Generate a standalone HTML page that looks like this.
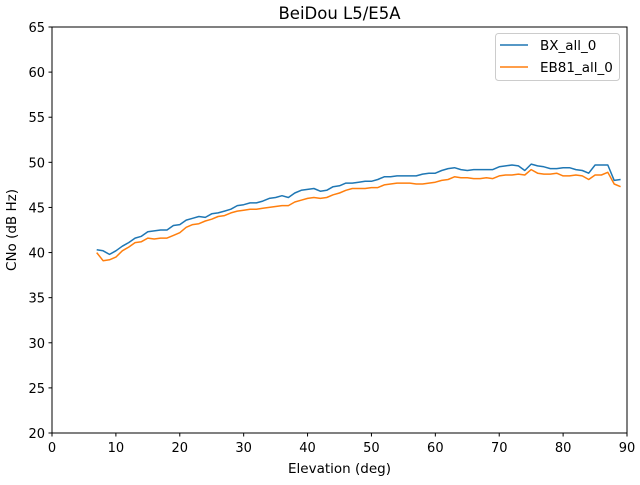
<!DOCTYPE html>
<html><head><meta charset="utf-8"><style>
body{margin:0;background:#fff}
svg text{font-family:"DejaVu Sans","Liberation Sans",sans-serif;fill:#000}
</style></head><body>
<svg id="s" width="640" height="480" xmlns="http://www.w3.org/2000/svg">
<rect width="640" height="480" fill="#fff"/>
<text x="339.5" y="19" font-size="16.5" text-anchor="middle">BeiDou L5/E5A</text>
<g id="ticks"></g>
<polyline id="b" fill="none" stroke="#1f77b4" stroke-width="1.5" stroke-linejoin="round"/>
<polyline id="o" fill="none" stroke="#ff7f0e" stroke-width="1.5" stroke-linejoin="round"/>
<rect x="52" y="27" width="575" height="406" fill="none" stroke="#000" stroke-width="1"/>
<text x="339.5" y="473" font-size="13.5" text-anchor="middle">Elevation (deg)</text>
<text transform="translate(16,230) rotate(-90)" font-size="13.5" text-anchor="middle">CNo (dB Hz)</text>
<rect x="495.5" y="33.5" width="124" height="47" rx="3" fill="#fff" stroke="#ccc" fill-opacity="0.8"/>
<line x1="500" y1="45" x2="528" y2="45" stroke="#1f77b4" stroke-width="1.5"/>
<text x="540" y="50" font-size="13.5">BX_all_0</text>
<line x1="500" y1="67" x2="528" y2="67" stroke="#ff7f0e" stroke-width="1.5"/>
<text x="540" y="72" font-size="13.5">EB81_all_0</text>
</svg>
<script>
var B=[40.3,40.2,39.8,40.2,40.7,41.1,41.6,41.8,42.3,42.4,42.5,42.5,43.0,43.1,43.6,43.8,44.0,43.9,44.3,44.4,44.6,44.8,45.2,45.3,45.5,45.5,45.7,46.0,46.1,46.3,46.1,46.6,46.9,47.0,47.1,46.8,46.9,47.3,47.4,47.7,47.7,47.8,47.9,47.9,48.1,48.4,48.4,48.5,48.5,48.5,48.5,48.7,48.8,48.8,49.1,49.3,49.4,49.2,49.1,49.2,49.2,49.2,49.2,49.5,49.6,49.7,49.6,49.1,49.8,49.6,49.5,49.3,49.3,49.4,49.4,49.2,49.1,48.8,49.7,49.7,49.7,48.0,48.1];
var O=[40.0,39.1,39.2,39.5,40.2,40.6,41.1,41.2,41.6,41.5,41.6,41.6,41.9,42.2,42.8,43.1,43.2,43.5,43.7,44.0,44.1,44.4,44.6,44.7,44.8,44.8,44.9,45.0,45.1,45.2,45.2,45.6,45.8,46.0,46.1,46.0,46.1,46.4,46.6,46.9,47.1,47.1,47.1,47.2,47.2,47.5,47.6,47.7,47.7,47.7,47.6,47.6,47.7,47.8,48.0,48.1,48.4,48.3,48.3,48.2,48.2,48.3,48.2,48.5,48.6,48.6,48.7,48.6,49.2,48.8,48.7,48.7,48.8,48.5,48.5,48.6,48.5,48.1,48.6,48.6,48.9,47.6,47.3];
function X(d){return 52+d*575/90}function Y(v){return 433-(v-20)*406/45}
function pts(a){return a.map(function(v,i){return X(7+i).toFixed(1)+","+Y(v).toFixed(1)}).join(" ")}
document.getElementById("b").setAttribute("points",pts(B));
document.getElementById("o").setAttribute("points",pts(O));
var g="";
for(var d=0;d<=90;d+=10){var x=X(d);g+='<line x1="'+x+'" y1="433" x2="'+x+'" y2="436.5" stroke="#000"/><text x="'+x+'" y="452" font-size="13" text-anchor="middle">'+d+'</text>';}
for(var v=20;v<=65;v+=5){var y=Y(v);g+='<line x1="48.5" y1="'+y+'" x2="52" y2="'+y+'" stroke="#000"/><text x="45" y="'+(y+5)+'" font-size="13" text-anchor="end">'+v+'</text>';}
document.getElementById("ticks").innerHTML=g;
</script>
</body></html>
